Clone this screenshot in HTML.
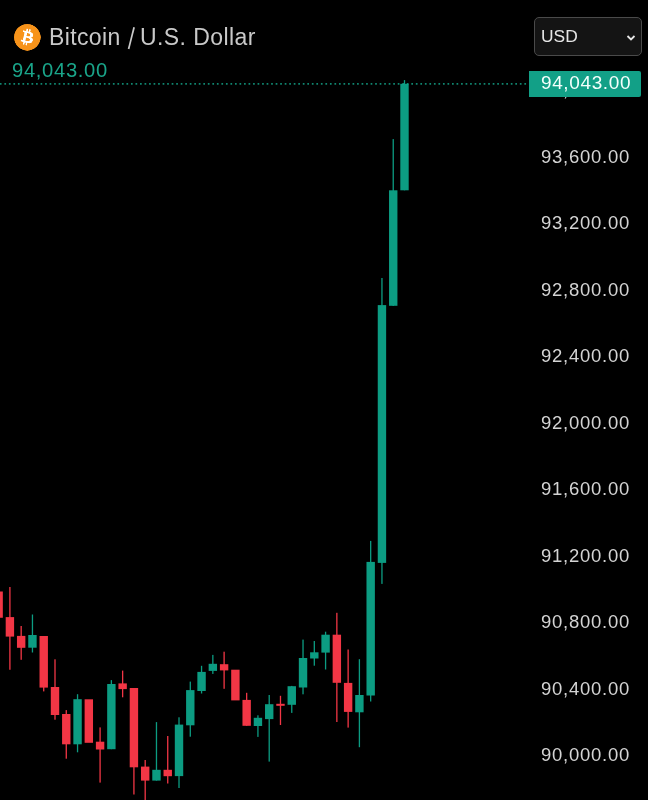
<!DOCTYPE html>
<html><head><meta charset="utf-8">
<style>
html,body{margin:0;padding:0;background:#000;}
body *{will-change:transform;}
body{width:648px;height:800px;overflow:hidden;position:relative;font-family:"Liberation Sans",sans-serif;}
.chart{position:absolute;left:0;top:0;width:648px;height:800px;}
.al{position:absolute;left:541.1px;height:0;color:#d4d4d4;font-size:18.5px;letter-spacing:0.75px;line-height:0;margin-top:0.6px;}
.al span{display:block;}
.title{position:absolute;left:48.5px;top:36.5px;line-height:0;color:#c9c9c9;font-size:23.5px;white-space:nowrap;}
.price{position:absolute;left:12.4px;top:70.3px;line-height:0;color:#1aa58a;font-size:20.2px;letter-spacing:0.68px;}
.icon{position:absolute;left:14px;top:23.6px;width:26.5px;height:26.5px;}
.usd{position:absolute;left:533.5px;top:17.2px;width:106.2px;height:36.7px;border:1px solid #4a4a4a;border-radius:5px;background:#141414;box-sizing:content-box;}
.usd .t{position:absolute;left:5.5px;top:18.1px;line-height:0;color:#e6e6e6;font-size:17.4px;}
.usd svg{position:absolute;left:90.5px;top:15.5px;}
.plabel{position:absolute;left:528.8px;top:71.3px;width:111.9px;height:25.7px;background:#12a087;border-radius:0 2px 2px 0;}
.plabel .t{position:absolute;left:12.3px;top:12.3px;line-height:0;color:#f4fffc;font-size:19px;letter-spacing:0.62px;}
</style></head><body>
<svg class="chart" width="648" height="800" viewBox="0 0 648 800">
<rect x="-5.57" y="591.50" width="8.4" height="26.25" fill="#f23645"/>
<rect x="9.25" y="587.00" width="1.3" height="82.75" fill="#f23645"/>
<rect x="5.70" y="617.10" width="8.4" height="19.50" fill="#f23645"/>
<rect x="20.52" y="626.00" width="1.3" height="33.80" fill="#f23645"/>
<rect x="16.97" y="635.90" width="8.4" height="11.90" fill="#f23645"/>
<rect x="31.80" y="614.50" width="1.3" height="38.00" fill="#0c9c82"/>
<rect x="28.25" y="635.00" width="8.4" height="12.70" fill="#0c9c82"/>
<rect x="43.07" y="636.00" width="1.3" height="55.40" fill="#f23645"/>
<rect x="39.52" y="636.00" width="8.4" height="51.60" fill="#f23645"/>
<rect x="54.35" y="659.30" width="1.3" height="60.40" fill="#f23645"/>
<rect x="50.80" y="687.00" width="8.4" height="28.00" fill="#f23645"/>
<rect x="65.62" y="710.10" width="1.3" height="48.60" fill="#f23645"/>
<rect x="62.07" y="714.00" width="8.4" height="30.30" fill="#f23645"/>
<rect x="76.90" y="694.20" width="1.3" height="58.10" fill="#0c9c82"/>
<rect x="73.35" y="699.20" width="8.4" height="45.10" fill="#0c9c82"/>
<rect x="84.62" y="699.30" width="8.4" height="43.50" fill="#f23645"/>
<rect x="99.44" y="727.40" width="1.3" height="55.20" fill="#f23645"/>
<rect x="95.89" y="741.70" width="8.4" height="7.80" fill="#f23645"/>
<rect x="110.72" y="680.10" width="1.3" height="69.10" fill="#0c9c82"/>
<rect x="107.17" y="684.00" width="8.4" height="65.20" fill="#0c9c82"/>
<rect x="121.99" y="670.60" width="1.3" height="26.70" fill="#f23645"/>
<rect x="118.44" y="683.40" width="8.4" height="5.70" fill="#f23645"/>
<rect x="133.27" y="688.00" width="1.3" height="106.50" fill="#f23645"/>
<rect x="129.72" y="688.00" width="8.4" height="79.30" fill="#f23645"/>
<rect x="144.54" y="760.00" width="1.3" height="40.50" fill="#f23645"/>
<rect x="140.99" y="766.60" width="8.4" height="14.00" fill="#f23645"/>
<rect x="155.82" y="722.10" width="1.3" height="58.50" fill="#0c9c82"/>
<rect x="152.27" y="769.80" width="8.4" height="10.80" fill="#0c9c82"/>
<rect x="167.09" y="736.00" width="1.3" height="47.50" fill="#f23645"/>
<rect x="163.54" y="769.80" width="8.4" height="6.40" fill="#f23645"/>
<rect x="178.36" y="717.30" width="1.3" height="70.70" fill="#0c9c82"/>
<rect x="174.81" y="724.60" width="8.4" height="51.50" fill="#0c9c82"/>
<rect x="189.64" y="681.60" width="1.3" height="55.10" fill="#0c9c82"/>
<rect x="186.09" y="690.10" width="8.4" height="35.20" fill="#0c9c82"/>
<rect x="200.91" y="665.80" width="1.3" height="27.70" fill="#0c9c82"/>
<rect x="197.36" y="671.90" width="8.4" height="19.10" fill="#0c9c82"/>
<rect x="212.19" y="654.90" width="1.3" height="19.00" fill="#0c9c82"/>
<rect x="208.64" y="663.80" width="8.4" height="7.10" fill="#0c9c82"/>
<rect x="223.46" y="651.70" width="1.3" height="37.10" fill="#f23645"/>
<rect x="219.91" y="664.20" width="8.4" height="6.20" fill="#f23645"/>
<rect x="231.19" y="669.70" width="8.4" height="30.70" fill="#f23645"/>
<rect x="246.01" y="692.80" width="1.3" height="33.00" fill="#f23645"/>
<rect x="242.46" y="699.90" width="8.4" height="25.90" fill="#f23645"/>
<rect x="257.28" y="715.30" width="1.3" height="21.60" fill="#0c9c82"/>
<rect x="253.73" y="717.80" width="8.4" height="8.20" fill="#0c9c82"/>
<rect x="268.56" y="695.00" width="1.3" height="66.60" fill="#0c9c82"/>
<rect x="265.01" y="704.20" width="8.4" height="14.90" fill="#0c9c82"/>
<rect x="279.83" y="695.80" width="1.3" height="29.20" fill="#f23645"/>
<rect x="276.28" y="703.80" width="8.4" height="2.00" fill="#f23645"/>
<rect x="291.11" y="685.90" width="1.3" height="27.00" fill="#0c9c82"/>
<rect x="287.56" y="686.20" width="8.4" height="18.60" fill="#0c9c82"/>
<rect x="302.38" y="639.60" width="1.3" height="54.70" fill="#0c9c82"/>
<rect x="298.83" y="658.00" width="8.4" height="29.50" fill="#0c9c82"/>
<rect x="313.66" y="641.00" width="1.3" height="24.70" fill="#0c9c82"/>
<rect x="310.11" y="652.30" width="8.4" height="6.20" fill="#0c9c82"/>
<rect x="324.93" y="631.70" width="1.3" height="37.80" fill="#0c9c82"/>
<rect x="321.38" y="634.70" width="8.4" height="17.90" fill="#0c9c82"/>
<rect x="336.20" y="612.80" width="1.3" height="109.20" fill="#f23645"/>
<rect x="332.65" y="634.70" width="8.4" height="48.10" fill="#f23645"/>
<rect x="347.48" y="649.50" width="1.3" height="78.10" fill="#f23645"/>
<rect x="343.93" y="682.90" width="8.4" height="29.00" fill="#f23645"/>
<rect x="358.75" y="659.20" width="1.3" height="88.00" fill="#0c9c82"/>
<rect x="355.20" y="695.00" width="8.4" height="17.30" fill="#0c9c82"/>
<rect x="370.03" y="540.90" width="1.3" height="160.60" fill="#0c9c82"/>
<rect x="366.48" y="561.90" width="8.4" height="133.60" fill="#0c9c82"/>
<rect x="381.30" y="278.00" width="1.3" height="305.90" fill="#0c9c82"/>
<rect x="377.75" y="305.10" width="8.4" height="257.80" fill="#0c9c82"/>
<rect x="392.58" y="139.10" width="1.3" height="166.90" fill="#0c9c82"/>
<rect x="389.03" y="190.30" width="8.4" height="115.50" fill="#0c9c82"/>
<rect x="403.85" y="80.10" width="1.3" height="110.20" fill="#0c9c82"/>
<rect x="400.30" y="83.80" width="8.4" height="106.50" fill="#0c9c82"/>
<line x1="0" y1="83.9" x2="528" y2="83.9" stroke="#14a88c" stroke-opacity="0.8" stroke-width="1.7" stroke-dasharray="1.7 2.8216" stroke-dashoffset="0.15"/>
</svg>
<div class="al" style="top:89.60px">94,000.00</div>
<div class="al" style="top:156.13px">93,600.00</div>
<div class="al" style="top:222.66px">93,200.00</div>
<div class="al" style="top:289.19px">92,800.00</div>
<div class="al" style="top:355.72px">92,400.00</div>
<div class="al" style="top:422.25px">92,000.00</div>
<div class="al" style="top:488.78px">91,600.00</div>
<div class="al" style="top:555.31px">91,200.00</div>
<div class="al" style="top:621.84px">90,800.00</div>
<div class="al" style="top:688.37px">90,400.00</div>
<div class="al" style="top:754.90px">90,000.00</div>
<div class="plabel"><div class="t">94,043.00</div></div>
<svg class="icon" viewBox="0 0 64 64"><circle cx="32" cy="32" r="32" fill="#f7931a"/><path fill="#fff" d="m46.103,27.444c0.637-4.258-2.605-6.547-7.038-8.074l1.438-5.768-3.511-0.875-1.4,5.616c-0.923-0.23-1.871-0.447-2.813-0.662l1.41-5.653-3.509-0.875-1.439,5.766c-0.764-0.174-1.514-0.346-2.242-0.527l0.004-0.018-4.842-1.209-0.934,3.75s2.605,0.597,2.55,0.634c1.422,0.355,1.679,1.296,1.636,2.042l-1.638,6.571c0.098,0.025,0.225,0.061,0.365,0.117-0.117-0.029-0.242-0.061-0.371-0.092l-2.296,9.205c-0.174,0.432-0.615,1.08-1.609,0.834,0.035,0.051-2.552-0.637-2.552-0.637l-1.743,4.019,4.569,1.139c0.85,0.213,1.683,0.436,2.503,0.646l-1.453,5.834,3.507,0.875,1.439-5.772c0.958,0.26,1.888,0.5,2.798,0.726l-1.434,5.745,3.511,0.875,1.453-5.823c5.987,1.133,10.489,0.676,12.384-4.739,1.527-4.36-0.076-6.875-3.226-8.515,2.294-0.529,4.022-2.038,4.483-5.155zm-8.022,11.249c-1.085,4.36-8.426,2.003-10.806,1.412l1.928-7.729c2.38,0.594,10.012,1.77,8.878,6.317zm1.086-11.312c-0.99,3.966-7.1,1.951-9.082,1.457l1.748-7.01c1.982,0.494,8.365,1.416,7.334,5.553z"/></svg>
<div class="title" style="left:48.6px;letter-spacing:0.38px;font-size:23px;top:36.8px">Bitcoin</div><svg style="position:absolute;left:0;top:0" width="648" height="60"><line x1="134.1" y1="27.3" x2="128.6" y2="49" stroke="#c9c9c9" stroke-width="1.7"/></svg><div class="title" style="left:140.1px;font-size:23px;letter-spacing:0.42px;top:36.8px">U.S. Dollar</div>
<div class="price">94,043.00</div>
<div class="usd"><div class="t">USD</div><svg width="10" height="8" viewBox="0 0 10 8"><path d="M1.5 2 L5 5.5 L8.5 2" stroke="#e6e6e6" stroke-width="1.8" fill="none"/></svg></div>
</body></html>
